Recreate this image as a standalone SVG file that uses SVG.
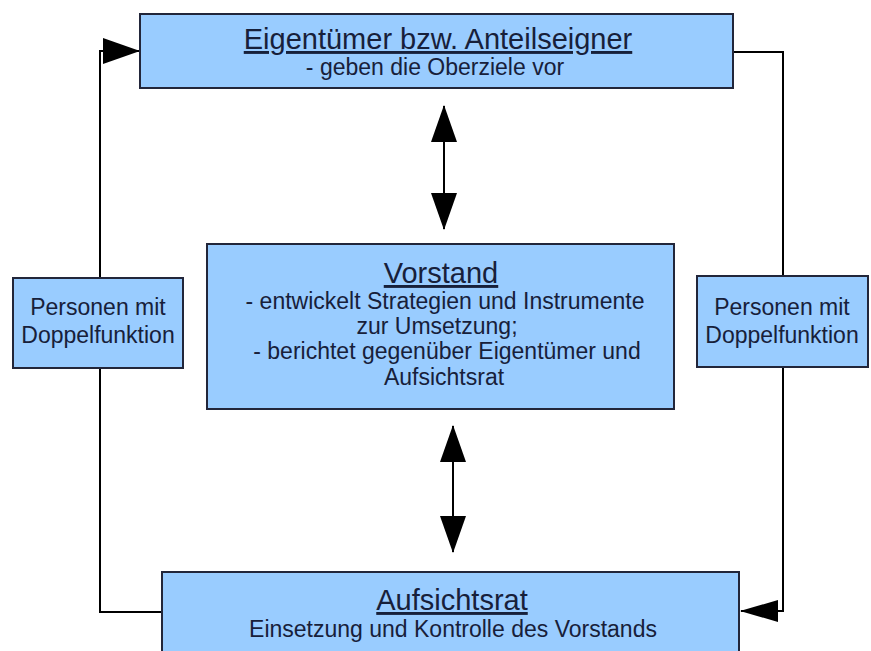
<svg xmlns="http://www.w3.org/2000/svg" width="871" height="651" viewBox="0 0 871 651">
  <style>
    .box { fill: #99ccff; stroke: #22263a; stroke-width: 2; }
    .t { font-family: "Liberation Sans", Arial, sans-serif; fill: #17203a; text-anchor: middle; }
    .head { font-size: 29px; text-decoration: underline; }
    .body { font-size: 23px; }
    .side { font-size: 23px; }
    .conn { fill: none; stroke: #000; stroke-width: 2; }
  </style>
  <defs>
    <marker id="arrow" viewBox="0 0 37 26" refX="36" refY="13" markerWidth="37" markerHeight="26" markerUnits="userSpaceOnUse" orient="auto-start-reverse">
      <path d="M0,0 L37,13 L0,26 z" fill="#000"/>
    </marker>
    <marker id="arrowSmall" viewBox="0 0 38 22" refX="37" refY="11" markerWidth="38" markerHeight="22" markerUnits="userSpaceOnUse" orient="auto">
      <path d="M0,0 L38,11 L0,22 z" fill="#000"/>
    </marker>
  </defs>

  <rect width="871" height="651" fill="#ffffff"/>

  <!-- connectors -->
  <g id="connectors">
    <path class="conn" d="M162,612 H100 V51 H139" marker-end="url(#arrow)"/>
    <path class="conn" d="M733,52 H783 V611 H741" marker-end="url(#arrowSmall)"/>
    <path class="conn" d="M444,106 V229" marker-start="url(#arrow)" marker-end="url(#arrow)"/>
    <path class="conn" d="M453,426 V552" marker-start="url(#arrow)" marker-end="url(#arrow)"/>
  </g>

  <!-- owners -->
  <g id="eigentuemer">
    <rect class="box" x="140" y="14" width="593" height="74"/>
    <text class="t head" x="438" y="49">Eigentümer bzw. Anteilseigner</text>
    <text class="t body" x="435" y="75">- geben die Oberziele vor</text>
  </g>

  <!-- management board -->
  <g id="vorstand">
    <rect class="box" x="207" y="244" width="467" height="165"/>
    <text class="t head" x="441" y="283">Vorstand</text>
    <text class="t body" x="445" y="309">- entwickelt Strategien und Instrumente</text>
    <text class="t body" x="437" y="334">zur Umsetzung;</text>
    <text class="t body" x="447" y="359">- berichtet gegenüber Eigentümer und</text>
    <text class="t body" x="444" y="385">Aufsichtsrat</text>
  </g>

  <!-- dual-role persons, left -->
  <g id="doppelfunktion-links">
    <rect class="box" x="13" y="278" width="170" height="90"/>
    <text class="t side" x="98" y="315">Personen mit</text>
    <text class="t side" x="98" y="343">Doppelfunktion</text>
  </g>

  <!-- dual-role persons, right -->
  <g id="doppelfunktion-rechts">
    <rect class="box" x="697" y="276" width="171" height="91"/>
    <text class="t side" x="782" y="315">Personen mit</text>
    <text class="t side" x="782" y="343">Doppelfunktion</text>
  </g>

  <!-- supervisory board -->
  <g id="aufsichtsrat">
    <rect class="box" x="162" y="572" width="577" height="100"/>
    <text class="t head" x="452" y="610">Aufsichtsrat</text>
    <text class="t body" x="453" y="637">Einsetzung und Kontrolle des Vorstands</text>
  </g>
</svg>
